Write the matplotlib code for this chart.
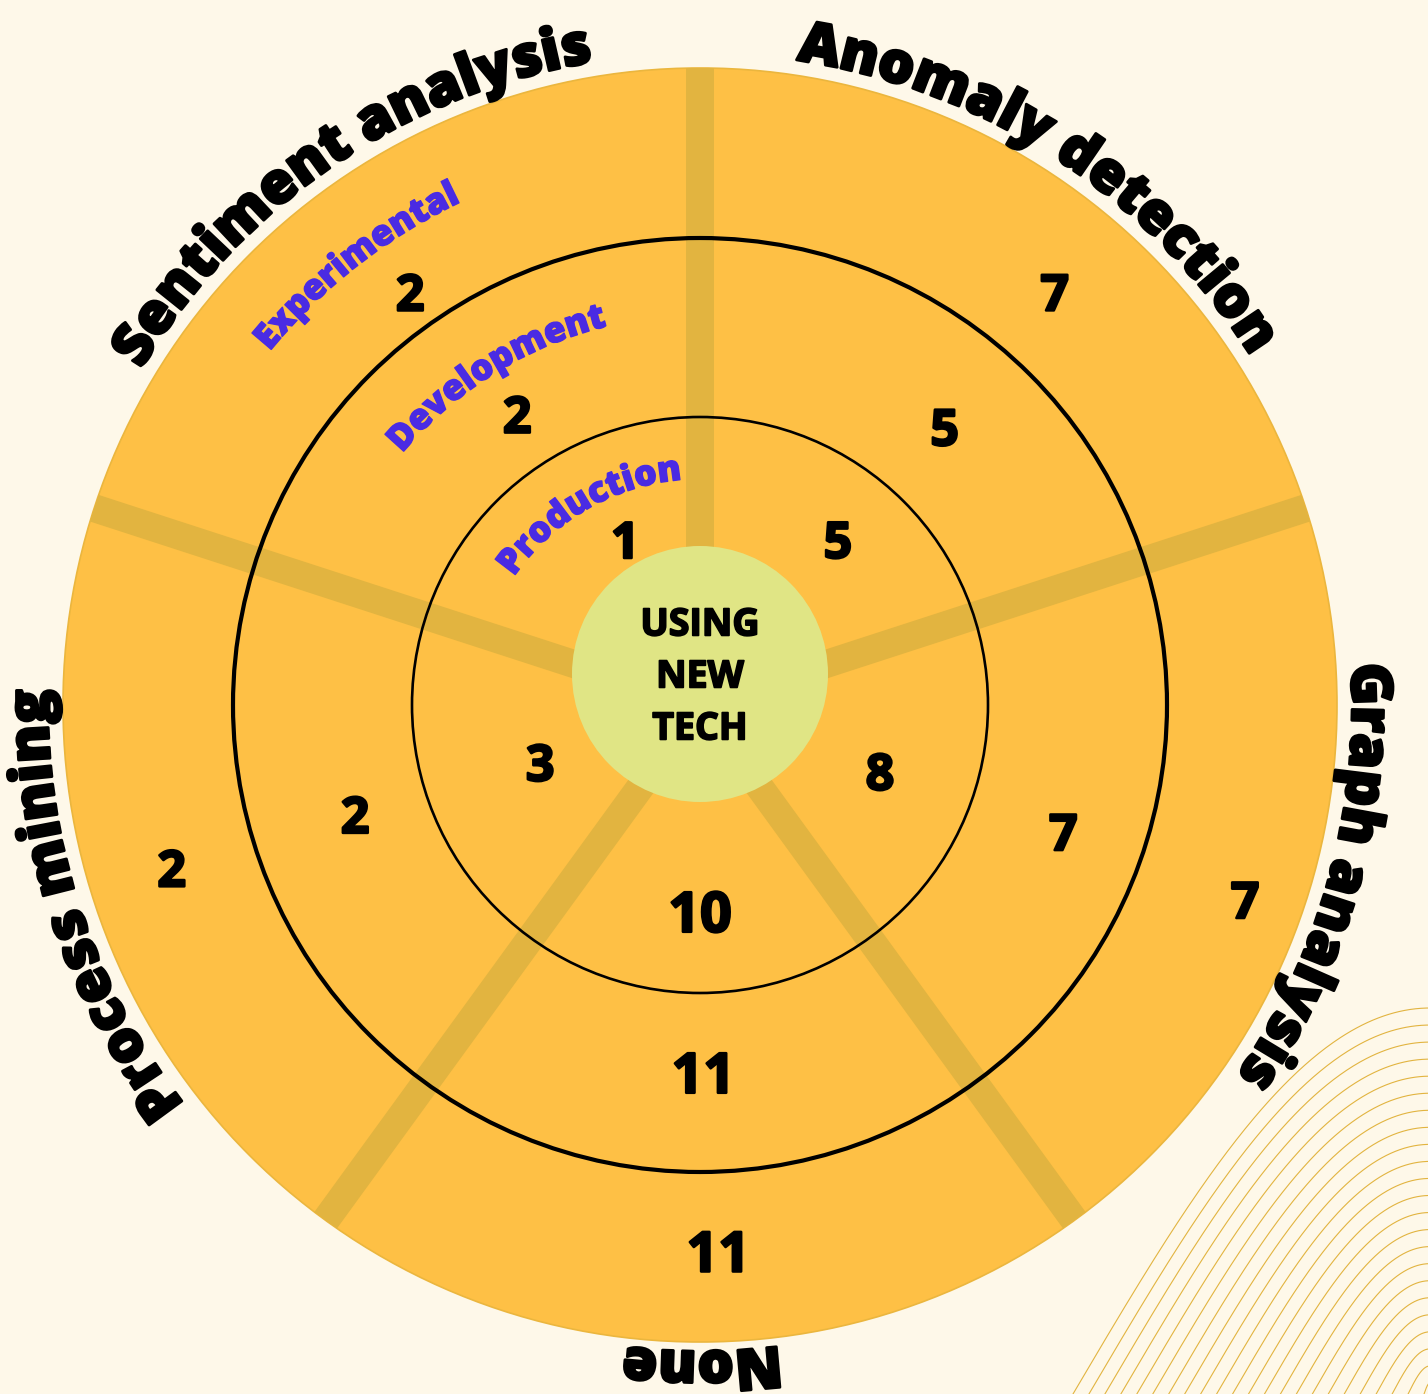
import numpy as np
import matplotlib
matplotlib.use('Agg')
import matplotlib.pyplot as plt
import matplotlib.patheffects as pe
from matplotlib.patches import Circle, Polygon
from matplotlib.font_manager import FontProperties, findfont, get_font
from matplotlib.ft2font import LOAD_NO_HINTING

# sectors, counter-clockwise starting at 18 degrees
categories = ['Anomaly detection', 'Sentiment analysis', 'Process mining', 'None', 'Graph analysis']
stages = ['Experimental', 'Development', 'Production']
experimental = [7, 2, 2, 11, 7]
development = [5, 2, 2, 11, 7]
production = [5, 1, 3, 10, 8]
center_lines = ['USING', 'NEW', 'TECH']

W, H, DPI = 1428, 1394, 100
CX, CY = 700, 705            # ring centre, pixels from the top-left corner
R_OUT, R_DEV, R_PROD, R_CORE = 637, 467, 288, 128
CORE_DY = 31                 # core disc sits a little above the ring centre

BG = '#FEF8E9'
ORANGE = '#FEC045'
DIVIDER = '#E2B440'
GREEN = '#E0E585'
PURPLE = '#4A2BE3'
FONT = 'Open Sans'

# where the numbers sit: (angle, radius) for each sector, per ring
num_angle = [[49.3, 48.6, 50.1], [125.1, 122.2, 114.4], [197.2, 197.7, 199.9],
             [-88.1, -89.5, -90.0], [-19.7, -19.3, -20.4]]
num_radius = [[544, 370, 215], [504, 343, 181], [553, 362, 170],
              [547, 368, 207], [579, 385, 192]]
# category label centres (deg), baselines, and stage label placement
cat_angle = [56.9, 124.2, 198.2, -89.8, -15.5]
cat_radius = [652, 652, 652, 646, 652]
stage_angle = [128.0, 121.8, 120.0]
stage_radius = [557, 390, 226]

fig = plt.figure(figsize=(W / DPI, H / DPI), dpi=DPI, facecolor=BG)
ax = fig.add_axes([0, 0, 1, 1])
ax.set_xlim(-CX, W - CX)
ax.set_ylim(-(H - CY), CY)
ax.set_aspect('equal')
ax.axis('off')
ax.set_facecolor(BG)


def heavy(color, lw):
    # thicken the glyphs a touch with an outline of the same colour
    return [pe.withStroke(linewidth=lw, foreground=color)]


def arc_text(text, radius, center_deg, size, color, weight, stroke):
    """Write text clockwise along a circle, letter tops facing outward."""
    fp = FontProperties(family=FONT, weight=weight, size=size)
    font = get_font(findfont(fp))
    font.set_size(size, DPI)
    adv = [font.load_char(ord(c), flags=LOAD_NO_HINTING).linearHoriAdvance / 65536
           for c in text]
    total = sum(adv)
    pos = 0.0
    for c, a in zip(text, adv):
        s = pos + a / 2 - total / 2
        th = np.radians(center_deg) - s / radius
        pos += a
        if c == ' ':
            continue
        ax.text(radius * np.cos(th), radius * np.sin(th), c, fontproperties=fp,
                color=color, rotation=np.degrees(th) - 90, rotation_mode='anchor',
                ha='center', va='baseline', zorder=6, path_effects=heavy(color, stroke))


# decorative wave lines in the lower right corner
u = np.linspace(0, 1, 200)
for xb, ye in zip(np.linspace(1073, 1440, 24), np.linspace(1008, 1400, 24)):
    xs = xb + (W + 2 - xb) * u
    ys = H - (H - ye) * np.sin(np.pi / 2 * u)
    ax.plot(xs - CX, CY - ys, color='#E2B440', lw=0.8, zorder=0)

# orange disc and sector dividers
disc = Circle((0, 0), R_OUT, facecolor=ORANGE, edgecolor='#EBB63E', lw=1.2, zorder=1)
ax.add_patch(disc)
half_w = 14
for k in range(5):
    a = np.radians(18 + 72 * k)
    d = np.array([np.cos(a), np.sin(a)])
    n = np.array([-np.sin(a), np.cos(a)])
    pts = [n * half_w, n * half_w + d * (R_OUT + 5), -n * half_w + d * (R_OUT + 5), -n * half_w]
    band = Polygon(pts, closed=True, facecolor=DIVIDER, edgecolor='none', zorder=2)
    ax.add_patch(band)
    band.set_clip_path(disc)

ax.add_patch(Circle((0, 0), R_DEV, fill=False, edgecolor='black', lw=3.0, zorder=3))
ax.add_patch(Circle((0, 0), R_PROD, fill=False, edgecolor='black', lw=1.9, zorder=3))
ax.add_patch(Circle((0, CORE_DY), R_CORE, facecolor=GREEN, edgecolor='none', zorder=4))

# centre caption
cap_px = 0.714 * 27 * DPI / 72
for i, line in enumerate(center_lines):
    yc = CY - (622 + 52 * i)
    ax.text(0, yc - cap_px / 2, line, family=FONT, weight='bold', size=27,
            ha='center', va='baseline', color='black', zorder=6,
            path_effects=heavy('black', 1.3))

# values in each ring
for k in range(5):
    for j, vals in enumerate([experimental, development, production]):
        size = 40 if vals[k] >= 10 else 36
        half = 0.714 * size * DPI / 72 / 2
        th = np.radians(num_angle[k][j])
        r = num_radius[k][j]
        ax.text(r * np.cos(th), r * np.sin(th) - half, str(vals[k]),
                family=FONT, weight='bold', size=size, ha='center', va='baseline',
                color='black', zorder=6, path_effects=heavy('black', 1.8))

# stage labels and category labels
for name, r, a in zip(stages, stage_radius, stage_angle):
    arc_text(name, r, a, 25.5, PURPLE, 'heavy', 1.0)
for name, r, a in zip(categories, cat_radius, cat_angle):
    arc_text(name, r, a, 41, 'black', 'heavy', 2.0)

fig.savefig('out.png', dpi=DPI, facecolor=BG)
